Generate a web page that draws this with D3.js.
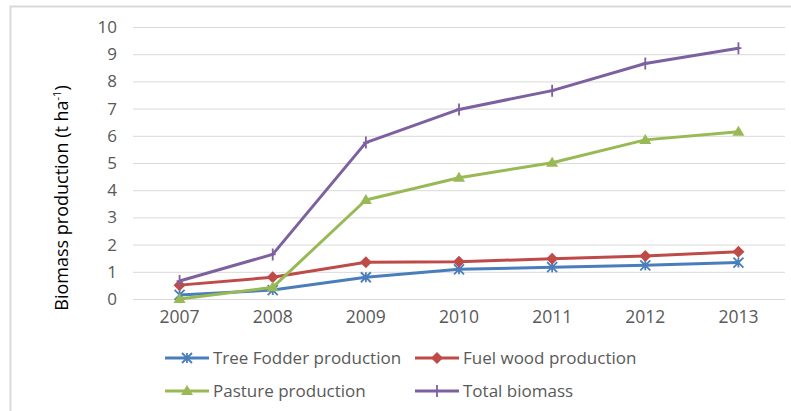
<!DOCTYPE html>
<html>
<head>
<meta charset="utf-8">
<script src="https://cdn.jsdelivr.net/npm/d3@7"></script>
<style>
  body { margin: 0; background: #fff; }
  text { font-family: "Open Sans", "Noto Sans", sans-serif; }
</style>
</head>
<body>
<div id="chart"></div>
<script>
// data
const years = ["2007", "2008", "2009", "2010", "2011", "2012", "2013"];
const treeFodder = [0.15, 0.33, 0.80, 1.09, 1.17, 1.24, 1.34];
const fuelWood = [0.51, 0.80, 1.35, 1.37, 1.48, 1.58, 1.74];
const pasture = [0.00, 0.43, 3.64, 4.46, 5.01, 5.85, 6.15];
const totalBiomass = [0.66, 1.64, 5.75, 6.97, 7.66, 8.66, 9.22];
const yTicks = [0, 1, 2, 3, 4, 5, 6, 7, 8, 9, 10];

const series = [
    { name: "Tree Fodder production", values: treeFodder, color: "#4a7ebb", marker: "star" },
    { name: "Fuel wood production", values: fuelWood, color: "#be4b48", marker: "diamond" },
    { name: "Pasture production", values: pasture, color: "#98b954", marker: "triangle" },
    { name: "Total biomass", values: totalBiomass, color: "#7d60a0", marker: "plus" }
];

const W = 791, H = 411;
const plot = { left: 133, right: 785, top: 27, bottom: 299 };

const svg = d3.select("#chart")
    .append("svg")
    .attr("width", W)
    .attr("height", H);

// outer frame (only top and left visible)
svg.append("rect")
    .attr("x", 10.5).attr("y", 6.5)
    .attr("width", 900).attr("height", 500)
    .attr("fill", "none")
    .attr("stroke", "#d9d9d9")
    .attr("stroke-width", 2);

const x = d3.scaleBand()
    .domain(years)
    .range([plot.left, plot.right]);

const y = d3.scaleLinear()
    .domain([0, 10])
    .range([plot.bottom, plot.top]);

// gridlines
svg.append("g")
    .selectAll("line")
    .data(yTicks)
    .join("line")
    .attr("x1", plot.left)
    .attr("x2", plot.right)
    .attr("y1", d => y(d) + 0.5)
    .attr("y2", d => y(d) + 0.5)
    .attr("stroke", "#d9d9d9")
    .attr("stroke-width", 1);

// y axis labels
const yAxis = d3.axisLeft(y).tickValues(yTicks).tickSize(0).tickPadding(0);
const gy = svg.append("g")
    .attr("transform", `translate(${plot.left - 16}, 0)`)
    .call(yAxis);
gy.select(".domain").remove();
gy.selectAll("text")
    .attr("fill", "#595959")
    .style("font-size", "17px");

// x axis labels
const xAxis = d3.axisBottom(x).tickSize(0).tickPadding(0);
const gx = svg.append("g")
    .attr("transform", `translate(0, ${plot.bottom + 12})`)
    .call(xAxis);
gx.select(".domain").remove();
gx.selectAll("text")
    .attr("fill", "#595959")
    .style("font-size", "17.5px");

// y axis title
const title = svg.append("text")
    .attr("transform", `translate(68, 198) rotate(-90)`)
    .attr("text-anchor", "middle")
    .attr("fill", "#000")
    .style("font-size", "18px");
title.append("tspan").text("Biomass production (t ha");
title.append("tspan").attr("dy", -7).style("font-size", "11px").text("-1");
title.append("tspan").attr("dy", 7).text(")");

const cx = i => x(years[i]) + x.bandwidth() / 2;

function drawMarker(g, type, px, py, color) {
    const s = 5;
    if (type === "diamond") {
        g.append("path")
            .attr("d", `M${px},${py - s - 1}L${px + s + 1},${py}L${px},${py + s + 1}L${px - s - 1},${py}Z`)
            .attr("fill", color);
    } else if (type === "triangle") {
        g.append("path")
            .attr("d", `M${px},${py - s - 1}L${px + s + 1},${py + s - 1}L${px - s - 1},${py + s - 1}Z`)
            .attr("fill", color);
    } else if (type === "star") {
        g.append("path")
            .attr("d", `M${px - s},${py - s}L${px + s},${py + s}M${px - s},${py + s}L${px + s},${py - s}M${px},${py - s}L${px},${py + s}`)
            .attr("stroke", color).attr("stroke-width", 1.8).attr("fill", "none");
    } else if (type === "plus") {
        g.append("path")
            .attr("d", `M${px},${py - s - 1}L${px},${py + s + 1}M${px - 3},${py}L${px + 3},${py}`)
            .attr("stroke", color).attr("stroke-width", 1.8).attr("fill", "none");
    }
}

const line = d3.line()
    .x((d, i) => cx(i))
    .y(d => y(d));

series.forEach(s => {
    const g = svg.append("g");
    g.append("path")
        .datum(s.values)
        .attr("fill", "none")
        .attr("stroke", s.color)
        .attr("stroke-width", 3)
        .attr("stroke-linejoin", "round")
        .attr("d", line);
    s.values.forEach((v, i) => drawMarker(g, s.marker, cx(i), y(v), s.color));
});

// legend
const legendPos = [
    { x: 165, y: 358 }, { x: 415, y: 358 },
    { x: 165, y: 391 }, { x: 415, y: 391 }
];
series.forEach((s, i) => {
    const p = legendPos[i];
    const g = svg.append("g");
    g.append("line")
        .attr("x1", p.x).attr("x2", p.x + 44)
        .attr("y1", p.y).attr("y2", p.y)
        .attr("stroke", s.color)
        .attr("stroke-width", 3);
    drawMarker(g, s.marker, p.x + 22, p.y, s.color);
    g.append("text")
        .attr("x", p.x + 48)
        .attr("y", p.y)
        .attr("dy", "0.35em")
        .attr("fill", "#595959")
        .style("font-size", "17px")
        .text(s.name);
});
</script>
</body>
</html>
